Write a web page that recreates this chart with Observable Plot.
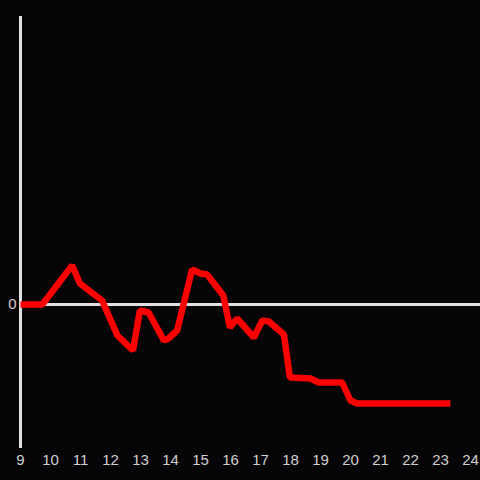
<!DOCTYPE html>
<html><head><meta charset="utf-8">
<script src="https://cdn.jsdelivr.net/npm/d3@7"></script>
<script src="https://cdn.jsdelivr.net/npm/@observablehq/plot@0.6"></script>
<style>html,body{margin:0;padding:0;background:#050407;}</style>
</head><body><div id="chart"></div>
<script>
const xs = [9, 9.73, 10.72, 10.98, 11.72, 12.23, 12.75, 12.98, 13.27, 13.78, 13.93, 14.22, 14.72, 15, 15.22, 15.76, 15.98, 16.22, 16.78, 17.06, 17.28, 17.78, 17.98, 18.67, 18.94, 19.72, 20, 20.22, 23.33];
const ys = [0, 0, 39, 21, 4, -31, -46, -6, -8, -36, -34, -26, 35, 31, 30, 9, -23, -14, -33, -16, -17, -30, -73, -74, -78, -78, -96, -99, -99];
const xTicks = [9,10,11,12,13,14,15,16,17,18,19,20,21,22,23,24];
const yTicks = [0];
const data = xs.map((x, i) => ({x, y: ys[i]}));
const chart = Plot.plot({
  width: 480, height: 480,
  marginLeft: 20, marginRight: 0, marginTop: 16, marginBottom: 32,
  style: {background: "#050407", color: "#d0d0d0", fontFamily: "'Liberation Sans', Arial, sans-serif"},
  x: {domain: [9, 24 + 1/3], label: null},
  y: {domain: [-144, 288], label: null},
  marks: [
    Plot.axisX({ticks: xTicks, tickSize: 0, tickPadding: 6, fontSize: 15, label: null, fill: "#d0d0d0"}),
    Plot.axisY({ticks: yTicks, tickSize: 0, tickPadding: 4, fontSize: 15, label: null, fill: "#d0d0d0"}),
    Plot.ruleY([0], {stroke: "#e0e0e0", strokeWidth: 3}),
    Plot.ruleX([9], {stroke: "#e0e0e0", strokeWidth: 3}),
    Plot.line(data, {x: "x", y: "y", stroke: "#ff0000", strokeWidth: 6.5, strokeLinejoin: "miter", strokeLinecap: "butt"})
  ]
});
document.getElementById("chart").append(chart);
</script></body></html>
